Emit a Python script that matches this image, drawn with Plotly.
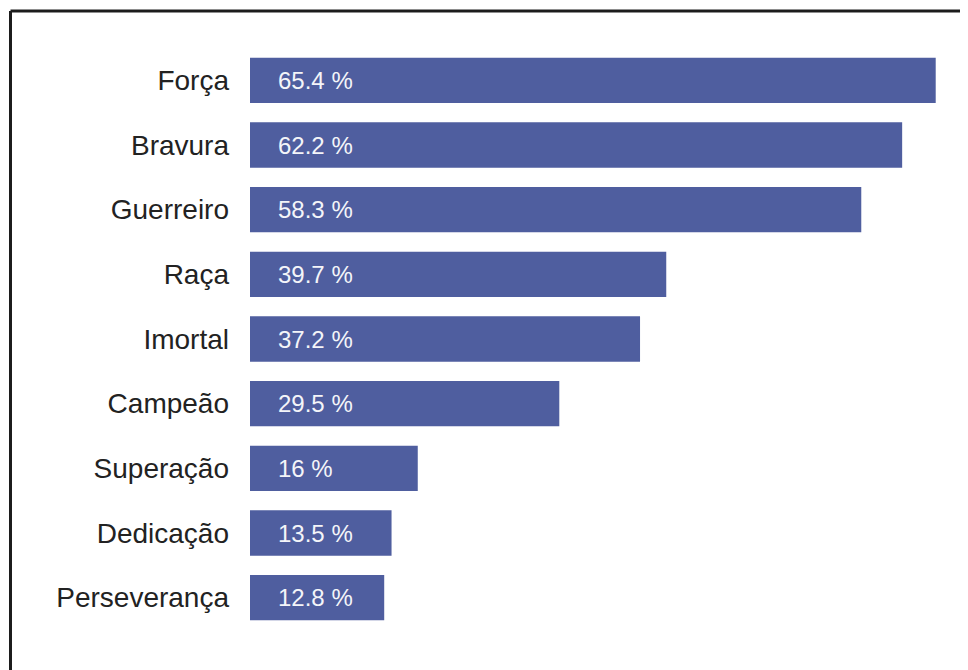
import plotly.graph_objects as go

categories = ["Força", "Bravura", "Guerreiro", "Raça", "Imortal",
              "Campeão", "Superação", "Dedicação", "Perseverança"]
values = [65.4, 62.2, 58.3, 39.7, 37.2, 29.5, 16, 13.5, 12.8]
labels = ["65.4 %", "62.2 %", "58.3 %", "39.7 %", "37.2 %",
          "29.5 %", "16 %", "13.5 %", "12.8 %"]

# page body keeps its default 8px margin, so the figure is drawn 8px in
OFF = 8
W, H = 968 - OFF, 670 - OFF
ml, mr, mt, mb = 250 - OFF, 26, 48 - OFF, 40
pw, ph = W - ml - mr, H - mt - mb

def px(x):
    return (x - OFF - ml) / pw

def py(y):
    return 1 - (y - OFF - mt) / ph

fig = go.Figure()
fig.add_trace(go.Bar(
    x=values, y=categories, orientation="h",
    marker=dict(color="#4F5E9F", line=dict(width=0)),
    hoverinfo="skip",
))

for cat, lab in zip(categories, labels):
    fig.add_annotation(x=0, y=cat, text=lab, showarrow=False,
                       xanchor="left", xshift=26,
                       font=dict(family="Liberation Sans, Arial", size=24, color="#F4F5F9"))

# frame (top and left edges visible)
fig.add_shape(type="line", xref="paper", yref="paper",
              x0=px(10.5), x1=px(980), y0=py(11), y1=py(11),
              line=dict(color="#1c1c1c", width=3))
fig.add_shape(type="line", xref="paper", yref="paper",
              x0=px(10.5), x1=px(10.5), y0=py(11), y1=py(690),
              line=dict(color="#1c1c1c", width=3))

fig.update_layout(
    width=W, height=H,
    margin=dict(l=ml, r=mr, t=mt, b=mb),
    paper_bgcolor="white", plot_bgcolor="white",
    bargap=0.30, showlegend=False,
    font=dict(family="Liberation Sans, Arial", color="#222222"),
)
fig.update_xaxes(range=[0, 66], visible=False, fixedrange=True)
fig.update_yaxes(autorange="reversed", showgrid=False, zeroline=False, showline=False,
                 ticks="", ticklabelstandoff=20,
                 tickfont=dict(size=28, color="#222222"), fixedrange=True)

fig.write_html("out.html", config={"displayModeBar": False})
